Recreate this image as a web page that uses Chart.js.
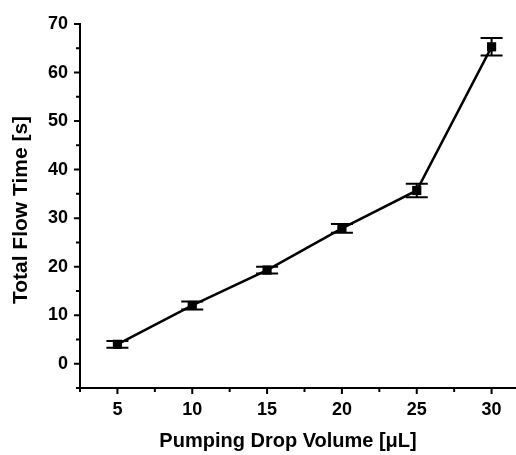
<!DOCTYPE html>
<html>
<head>
<meta charset="utf-8">
<script src="https://cdn.jsdelivr.net/npm/chart.js@4/dist/chart.umd.min.js"></script>
<style>
  html, body { margin: 0; padding: 0; background: #fff; overflow: hidden; }
  #wrap { width: 540px; height: 455px; }
</style>
</head>
<body>
<div id="wrap"><canvas id="flowChart" width="540" height="455"></canvas></div>
<script>
(() => {
  const dropVolumes = [5, 10, 15, 20, 25, 30];
  const flowTimes = [4.0, 12.0, 19.3, 27.9, 35.7, 65.3];
  const flowErrors = [0.7, 0.8, 0.7, 0.9, 1.4, 1.8];

  const xMajorTicks = [5, 10, 15, 20, 25, 30];
  const xMinorTicks = [2.5, 7.5, 12.5, 17.5, 22.5, 27.5, 32.5];
  const yMajorTicks = [0, 10, 20, 30, 40, 50, 60, 70];
  const yMinorTicks = [-5, 5, 15, 25, 35, 45, 55, 65];

  const xTitle = 'Pumping Drop Volume [μL]';
  const yTitle = 'Total Flow Time [s]';

  const FONT = "'Liberation Sans', Arial, sans-serif";

  // error bars + tick marks + axis titles, all placed via the chart scales
  const extras = {
    id: 'extras',
    afterDatasetsDraw(chart) {
      const { ctx, scales: { x, y } } = chart;
      ctx.save();
      ctx.strokeStyle = '#000';
      ctx.lineWidth = 2;
      dropVolumes.forEach((v, i) => {
        const px = x.getPixelForValue(v);
        const top = y.getPixelForValue(flowTimes[i] + flowErrors[i]);
        const bot = y.getPixelForValue(flowTimes[i] - flowErrors[i]);
        ctx.beginPath();
        ctx.moveTo(px, top); ctx.lineTo(px, bot);
        ctx.moveTo(px - 11, top); ctx.lineTo(px + 11, top);
        ctx.moveTo(px - 11, bot); ctx.lineTo(px + 11, bot);
        ctx.stroke();
      });
      ctx.restore();
    },
    afterDraw(chart) {
      const { ctx, chartArea, scales: { x, y } } = chart;
      ctx.save();
      ctx.strokeStyle = '#000';
      ctx.lineWidth = 2;
      ctx.beginPath();
      const xl = chartArea.left, yb = chartArea.bottom;
      xMajorTicks.forEach(v => { const p = x.getPixelForValue(v); ctx.moveTo(p, yb); ctx.lineTo(p, yb + 6); });
      xMinorTicks.forEach(v => { const p = x.getPixelForValue(v); ctx.moveTo(p, yb); ctx.lineTo(p, yb + 4); });
      yMajorTicks.forEach(v => { const p = y.getPixelForValue(v); ctx.moveTo(xl, p); ctx.lineTo(xl - 6, p); });
      yMinorTicks.forEach(v => { const p = y.getPixelForValue(v); ctx.moveTo(xl, p); ctx.lineTo(xl - 4, p); });
      ctx.stroke();

      ctx.fillStyle = '#000';
      ctx.font = 'bold 20px ' + FONT;
      ctx.textAlign = 'center';
      ctx.textBaseline = 'middle';
      ctx.fillText(xTitle, (x.getPixelForValue(2.5) + x.getPixelForValue(30.3)) / 2, 441);

      ctx.font = 'bold 21px ' + FONT;
      ctx.translate(21, (chartArea.top + chartArea.bottom) / 2 + 4);
      ctx.rotate(-Math.PI / 2);
      ctx.fillText(yTitle, 0, 0);
      ctx.restore();
    }
  };

  new Chart(document.getElementById('flowChart').getContext('2d'), {
    type: 'line',
    data: {
      datasets: [{
        data: dropVolumes.map((v, i) => ({ x: v, y: flowTimes[i] })),
        borderColor: '#000',
        backgroundColor: '#000',
        borderWidth: 2.5,
        pointStyle: 'rect',
        pointRadius: 6.5,
        pointBorderWidth: 0,
        tension: 0
      }]
    },
    options: {
      responsive: false,
      animation: false,
      layout: { padding: { top: 24, right: 7, left: 0, bottom: 0 } },
      plugins: { legend: { display: false }, tooltip: { enabled: false } },
      scales: {
        x: {
          type: 'linear',
          min: 2.5,
          max: 32.5,
          grid: { display: false, drawTicks: false },
          border: { display: true, color: '#000', width: 2 },
          ticks: {
            stepSize: 2.5,
            autoSkip: false,
            maxRotation: 0,
            padding: 11,
            color: '#000',
            font: { family: FONT, size: 18, weight: 'bold' },
            callback: v => (v % 5 === 0 ? v : '')
          },
          afterFit: s => { s.height = 67; }
        },
        y: {
          min: -5,
          max: 70,
          grid: { display: false, drawTicks: false },
          border: { display: true, color: '#000', width: 2 },
          ticks: {
            stepSize: 5,
            autoSkip: false,
            padding: 12,
            color: '#000',
            font: { family: FONT, size: 18, weight: 'bold' },
            callback: v => (v % 10 === 0 && v >= 0 ? v : '')
          },
          afterFit: s => { s.width = 80; }
        }
      }
    },
    plugins: [extras]
  });
})();
</script>
</body>
</html>
